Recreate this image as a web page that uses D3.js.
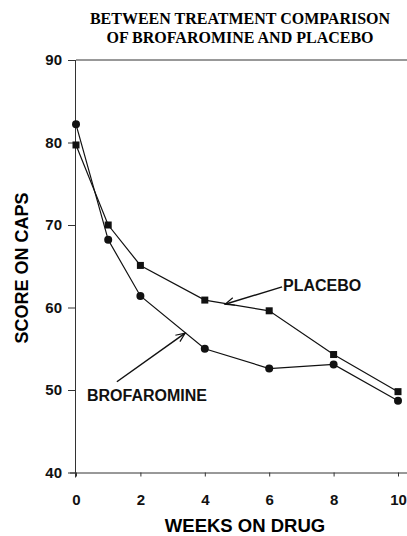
<!DOCTYPE html>
<html>
<head>
<meta charset="utf-8">
<script src="https://cdn.jsdelivr.net/npm/d3@7"></script>
<style>
  body { margin: 0; background: #fff; }
  svg { display: block; }
</style>
</head>
<body>
<svg id="chart"></svg>
<script>
// Data
const weeks = [0, 1, 2, 4, 6, 8, 10];
const brofaromine = [82.2, 68.2, 61.4, 55.0, 52.6, 53.1, 48.7];
const placebo = [79.7, 70.0, 65.1, 60.9, 59.6, 54.3, 49.8];
const xTicks = [0, 2, 4, 6, 8, 10];
const yTicks = [40, 50, 60, 70, 80, 90];
const titleLines = ["BETWEEN TREATMENT COMPARISON", "OF BROFAROMINE AND PLACEBO"];

const width = 407, height = 536;
const margin = { top: 60, bottom: 63.5, left: 76, right: 9 };

const svg = d3.select("#chart")
  .attr("width", width)
  .attr("height", height);

const x = d3.scaleLinear()
  .domain([0, 10])
  .range([margin.left, width - margin.right]);

const y = d3.scaleLinear()
  .domain([40, 90])
  .range([height - margin.bottom, margin.top]);

// Title
svg.append("g").selectAll("text")
  .data(titleLines)
  .enter()
  .append("text")
  .attr("x", 240)
  .attr("y", (d, i) => 24 + i * 19)
  .attr("text-anchor", "middle")
  .style("font-family", "'Liberation Serif', 'Times New Roman', serif")
  .style("font-weight", "bold")
  .style("font-size", "16px")
  .text(d => d);

// Top frame line runs to the edge
svg.append("line")
  .attr("x1", x(0)).attr("x2", width)
  .attr("y1", y(90)).attr("y2", y(90))
  .attr("stroke", "#333").attr("stroke-width", 1);

// Axes
const yAxis = svg.append("g")
  .attr("transform", `translate(${x(0)},0)`)
  .call(d3.axisLeft(y).tickValues(yTicks).tickSize(8).tickPadding(6));

const xAxis = svg.append("g")
  .attr("transform", `translate(0,${y(40)})`)
  .call(d3.axisBottom(x).tickValues(xTicks).tickSize(4).tickPadding(18));

xAxis.select(".domain").attr("d", `M${x(0) - 6},0.5H${width}`);
yAxis.select(".domain").attr("d", `M-0.5,${y(40) + 5}V${y(90)}`);

[xAxis, yAxis].forEach(a => {
  a.selectAll(".domain, line").attr("stroke", "#333");
  a.selectAll("text")
    .attr("fill", "#111")
    .style("font-family", "'Liberation Sans', Arial, sans-serif")
    .style("font-weight", "bold")
    .style("font-size", "15px");
});

// Axis labels
svg.append("text")
  .text("WEEKS ON DRUG")
  .attr("x", 245)
  .attr("y", 532)
  .attr("text-anchor", "middle")
  .style("font-family", "'Liberation Sans', Arial, sans-serif")
  .style("font-weight", "bold")
  .style("font-size", "18.5px");

svg.append("text")
  .text("SCORE ON CAPS")
  .attr("x", -268)
  .attr("y", 28)
  .attr("transform", "rotate(-90)")
  .attr("text-anchor", "middle")
  .style("font-family", "'Liberation Sans', Arial, sans-serif")
  .style("font-weight", "bold")
  .style("font-size", "18px");

// Lines
const line = d3.line()
  .x(d => x(d[0]))
  .y(d => y(d[1]));

const placeboPts = weeks.map((w, i) => [w, placebo[i]]);
const brofPts = weeks.map((w, i) => [w, brofaromine[i]]);

[placeboPts, brofPts].forEach(pts => {
  svg.append("path")
    .datum(pts)
    .attr("d", line)
    .attr("fill", "none")
    .attr("stroke", "#111")
    .attr("stroke-width", 1.2);
});

// Markers
svg.selectAll(".sq")
  .data(placeboPts)
  .enter()
  .append("rect")
  .attr("x", d => x(d[0]) - 3.5)
  .attr("y", d => y(d[1]) - 3.5)
  .attr("width", 7)
  .attr("height", 7)
  .attr("fill", "#111");

svg.selectAll(".dot")
  .data(brofPts)
  .enter()
  .append("circle")
  .attr("cx", d => x(d[0]))
  .attr("cy", d => y(d[1]))
  .attr("r", 4)
  .attr("fill", "#111");

// Annotations with open arrowheads (positions in data units)
const annotations = [
  { label: "PLACEBO", tx: 6.43, ty: 62.0, from: [6.4, 62.5], to: [4.63, 60.4] },
  { label: "BROFAROMINE", tx: 0.34, ty: 48.7, from: [1.27, 51.0], to: [3.39, 56.9] }
];

annotations.forEach(a => {
  const x1 = x(a.from[0]), y1 = y(a.from[1]);
  const x2 = x(a.to[0]), y2 = y(a.to[1]);
  const ang = Math.atan2(y2 - y1, x2 - x1);
  const len = 10, spread = 0.4;
  svg.append("line")
    .attr("x1", x1).attr("y1", y1)
    .attr("x2", x2).attr("y2", y2)
    .attr("stroke", "#111").attr("stroke-width", 1.5);
  svg.append("path")
    .attr("d", `M${x2 - len * Math.cos(ang - spread)},${y2 - len * Math.sin(ang - spread)}L${x2},${y2}L${x2 - len * Math.cos(ang + spread)},${y2 - len * Math.sin(ang + spread)}`)
    .attr("fill", "none")
    .attr("stroke", "#111")
    .attr("stroke-width", 1.2);
  svg.append("text")
    .text(a.label)
    .attr("x", x(a.tx))
    .attr("y", y(a.ty))
    .style("font-family", "'Liberation Sans', Arial, sans-serif")
    .style("font-weight", "bold")
    .style("font-size", "16px")
    .attr("fill", "#111");
});
</script>
</body>
</html>
